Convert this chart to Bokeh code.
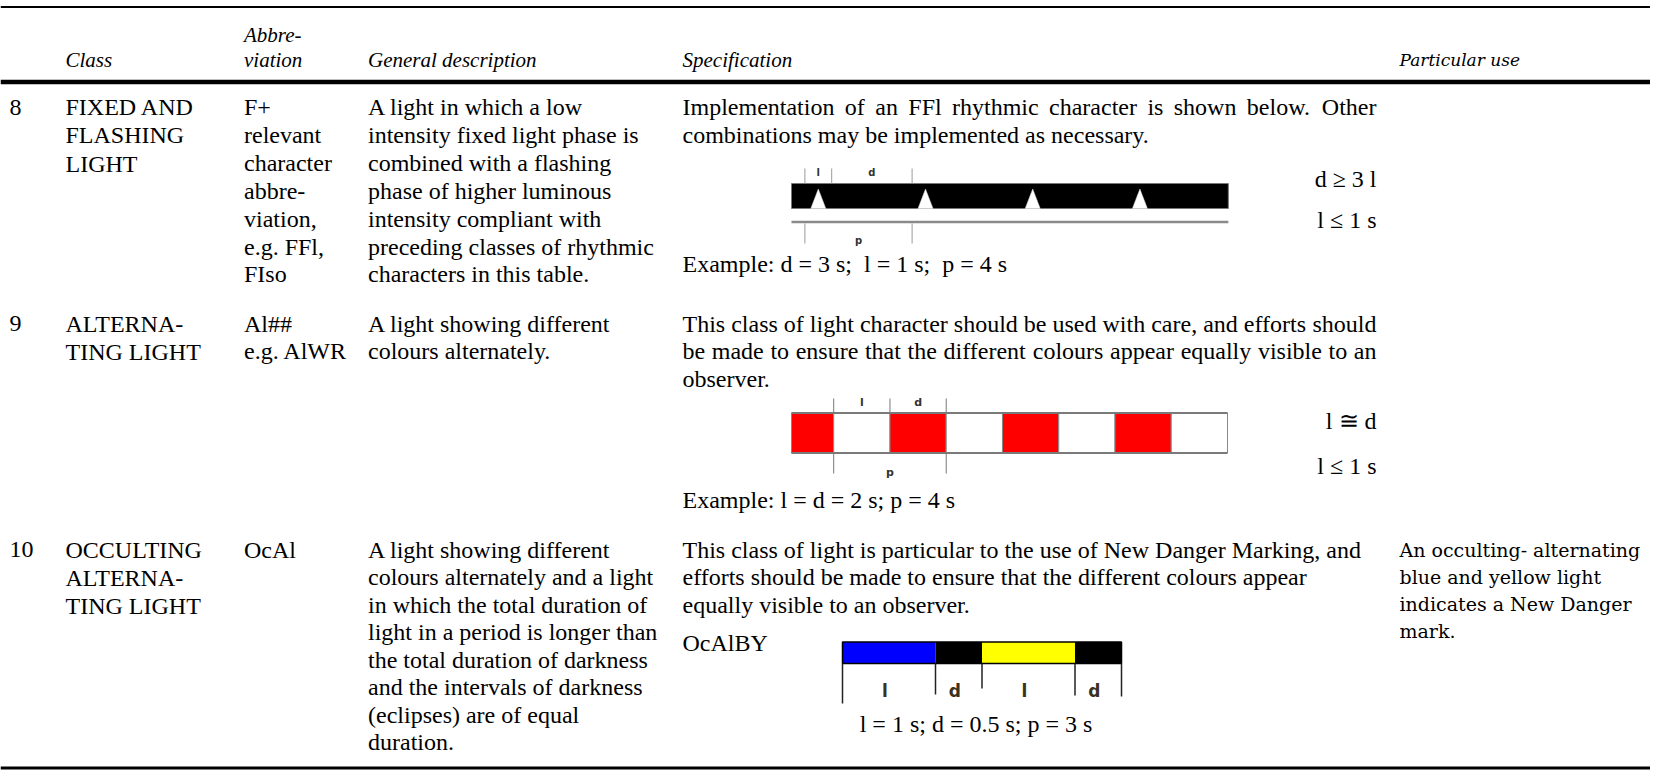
from bokeh.plotting import figure
from bokeh.models import Range1d
from bokeh.core.properties import value
from bokeh.embed import file_html
from bokeh.resources import INLINE

# ---------------- data ----------------
header_top = "Abbre-"
header_cols = ["Class", "viation", "General description", "Specification"]
header_particular = "Particular use"

row_numbers = ["8", "9", "10"]
class_lines = [["FIXED AND", "FLASHING", "LIGHT"],
               ["ALTERNA-", "TING LIGHT"],
               ["OCCULTING", "ALTERNA-", "TING LIGHT"]]
abbr_lines = [["F+", "relevant", "character", "abbre-", "viation,", "e.g. FFl,", "FIso"],
              ["Al##", "e.g. AlWR"],
              ["OcAl"]]
desc_lines = [
    ["A light in which a low", "intensity fixed light phase is", "combined with a flashing",
     "phase of higher luminous", "intensity compliant with", "preceding classes of rhythmic",
     "characters in this table."],
    ["A light showing different", "colours alternately."],
    ["A light showing different", "colours alternately and a light", "in which the total duration of",
     "light in a period is longer than", "the total duration of darkness", "and the intervals of darkness",
     "(eclipses) are of equal", "duration."],
]
spec_lines = [
    ["Implementation of an FFl rhythmic character is shown below. Other",
     "combinations may be implemented as necessary."],
    ["This class of light character should be used with care, and efforts should",
     "be made to ensure that the different colours appear equally visible to an",
     "observer."],
    ["This class of light is particular to the use of New Danger Marking, and",
     "efforts should be made to ensure that the different colours appear",
     "equally visible to an observer."],
]
spec_justified = [[True, False], [True, True, False], [False, False, False]]
spec_examples = ["Example: d = 3 s;\u00a0 l = 1 s;\u00a0 p = 4 s", "Example: l = d = 2 s; p = 4 s"]
cond_text = [["d \u2265 3 l", "l \u2264 1 s"], ["l \u2245 d", "l \u2264 1 s"]]
particular_lines = [[], [], ["An occulting- alternating", "blue and yellow light",
                             "indicates a New Danger", "mark."]]

# FFl rhythm (seconds)
ffl_light = 1.0
ffl_dark = 3.0
ffl_period = 4.0
ffl_flash_centres = [1.0, 5.0, 9.0, 13.0]
ffl_span = 16.3
# Alternating rhythm (seconds)
al_colours = ["#ff0000", "#ffffff", "#ff0000", "#ffffff", "#ff0000", "#ffffff", "#ff0000", "#ffffff"]
al_durations = [1.5, 2, 2, 2, 2, 2, 2, 2]
# Occulting alternating rhythm (seconds)
ocal_name = "OcAlBY"
ocal_colours = ["#0000ff", "#000000", "#ffff00", "#000000"]
ocal_durations = [1.0, 0.5, 1.0, 0.5]
ocal_labels = ["l", "d", "l", "d"]
ocal_caption = "l = 1 s; d = 0.5 s; p = 3 s"

# ---------------- layout ----------------
W, H = 1650, 770
XL, YT = 0, 0
XR, YB = XL + W, YT + H

X_NUM, X_CLASS, X_ABBR, X_DESC, X_SPEC, X_SPEC_R, X_PART = 9, 65, 243.5, 367.5, 682, 1376, 1399
ROW_Y = [106.5, 323, 549]
ROW_LH = [27.9, 27.6, 27.5]
SERIF = "Liberation Serif"
BODY = "24px"
HEAD = "21px"

TW = dict(zip("abcdefghijklmnopqrstuvwxyz",
              [444, 500, 444, 500, 444, 333, 500, 500, 278, 278, 500, 278, 778, 500, 500, 500, 500, 333, 389,
               278, 500, 500, 722, 500, 500, 444]))
TW.update(dict(zip("ABCDEFGHIJKLMNOPQRSTUVWXYZ",
                   [722, 667, 667, 722, 611, 556, 722, 722, 333, 389, 722, 611, 889, 722, 722, 556, 722, 667,
                    556, 611, 722, 722, 944, 722, 722, 611])))
TW.update({" ": 250, ".": 250, ",": 250, "-": 333, ";": 278, ":": 278})

p = figure(width=W, height=H, x_range=Range1d(XL, XR), y_range=Range1d(YB, YT),
           output_backend="svg", toolbar_location=None, x_axis_type=None, y_axis_type=None,
           min_border=0, min_border_left=0, min_border_right=0, min_border_top=0, min_border_bottom=0)
p.grid.visible = False
p.outline_line_color = None
p.background_fill_color = "white"
p.border_fill_color = "white"


def txt(xs, ys, texts, font=SERIF, size=BODY, style="normal", align="left", color="black"):
    p.text(x=xs, y=ys, text=texts, text_font=value(font), text_font_size=size,
           text_font_style=style, text_align=align, text_baseline="middle", text_color=color)


# rules
p.segment(x0=[XL, XL, XL], y0=[6.5, 81.5, 767.5], x1=[XR, XR, XR], y1=[6.5, 81.5, 767.5],
          line_color="black", line_width=[2, 4.5, 3])

# header
txt([X_ABBR], [34], [header_top], size=HEAD, style="italic")
txt([X_CLASS, X_ABBR, X_DESC, X_SPEC], [59.5] * 4, header_cols, size=HEAD, style="italic")
txt([X_PART], [59.5], [header_particular], font="DejaVu Serif", size="17px", style="italic")

# left columns
for r, y0 in enumerate(ROW_Y):
    lh = ROW_LH[r]
    txt([X_NUM], [y0], [row_numbers[r]])
    cl = class_lines[r]
    txt([X_CLASS] * len(cl), [y0 + i * 28.4 for i in range(len(cl))], cl)
    al = abbr_lines[r]
    txt([X_ABBR] * len(al), [y0 + i * lh for i in range(len(al))], al)
    dl = desc_lines[r]
    txt([X_DESC] * len(dl), [y0 + i * lh for i in range(len(dl))], dl)
    pl = particular_lines[r]
    if pl:
        txt([X_PART] * len(pl), [y0 + i * 27.3 for i in range(len(pl))], pl, font="DejaVu Serif", size="19px")

    # specification column
    for i, line in enumerate(spec_lines[r]):
        y = y0 + i * 27.6
        if spec_justified[r][i]:
            words = line.split(" ")
            widths = [sum(TW.get(c, 500) for c in w) * 24 / 1000 for w in words]
            gap = (X_SPEC_R - X_SPEC - sum(widths)) / (len(words) - 1)
            xs, x = [], X_SPEC
            for w in widths:
                xs.append(x)
                x += w + gap
            txt(xs[:-1], [y] * (len(words) - 1), words[:-1])
            txt([X_SPEC_R], [y], [words[-1]], align="right")
        else:
            txt([X_SPEC], [y], [line])

# examples and conditions
txt([X_SPEC, X_SPEC], [263, 499], spec_examples)
txt([X_SPEC_R] * 4, [178.5, 219, 420.6, 465], cond_text[0] + cond_text[1], align="right")

LAB = "DejaVu Sans"

# ---- FFl diagram ----
fx0, fs = 791, 26.8
FX = lambda t: fx0 + t * fs
p.quad(left=[FX(0)], right=[FX(ffl_span)], top=[183], bottom=[208], fill_color="black", line_color="#777777",
       line_width=1)
tri_x = [[FX(c) - 7.5, FX(c), FX(c) + 7.5] for c in ffl_flash_centres]
tri_y = [[208, 188.5, 208] for _ in ffl_flash_centres]
p.patches(xs=tri_x, ys=tri_y, fill_color="white", line_color="#dddddd", line_width=0.5)
p.segment(x0=[FX(0)], y0=[221.5], x1=[FX(ffl_span)], y1=[221.5], line_color="#8a8a8a", line_width=2.5)
f_start = ffl_flash_centres[0] - ffl_light / 2
f_end = f_start + ffl_light
f_next = f_start + ffl_period
up = [f_start, f_end, f_next]
p.segment(x0=[FX(t) for t in up], y0=[168] * 3, x1=[FX(t) for t in up], y1=[183] * 3,
          line_color="#9a9a9a", line_width=1)
dn = [f_start, f_next]
p.segment(x0=[FX(t) for t in dn], y0=[223] * 2, x1=[FX(t) for t in dn], y1=[243] * 2,
          line_color="#9a9a9a", line_width=1)
txt([FX(ffl_flash_centres[0]), FX(f_end + ffl_dark / 2), FX(f_start + ffl_period / 2)], [172, 172, 240],
    ["l", "d", "p"], font=LAB, size="10px", style="bold", align="center", color="#333333")

# ---- Alternating diagram ----
ax0, as_ = 791, 28.13
AX = lambda t: ax0 + t * as_
edges = [0.0]
for d in al_durations:
    edges.append(edges[-1] + d)
p.quad(left=[AX(e) for e in edges[:-1]], right=[AX(e) for e in edges[1:]], top=412.5, bottom=452.5,
       fill_color=al_colours, line_color="#888888", line_width=1)
p.segment(x0=[AX(0)] * 2, y0=[412.5, 452.5], x1=[AX(edges[-1])] * 2, y1=[412.5, 452.5],
          line_color="#7a7a7a", line_width=2)
up = edges[1:4]
p.segment(x0=[AX(t) for t in up], y0=[398] * 3, x1=[AX(t) for t in up], y1=[412.5] * 3,
          line_color="#777777", line_width=1)
dn = [edges[1], edges[3]]
p.segment(x0=[AX(t) for t in dn], y0=[452.5] * 2, x1=[AX(t) for t in dn], y1=[473] * 2,
          line_color="#777777", line_width=1)
txt([AX((edges[1] + edges[2]) / 2), AX((edges[2] + edges[3]) / 2), AX((edges[1] + edges[3]) / 2)],
    [401.5, 401.5, 472], ["l", "d", "p"], font=LAB, size="11px", style="bold", align="center", color="#333333")

# ---- Occulting alternating diagram ----
ox0, os_ = 842, 93.0
OX = lambda t: ox0 + t * os_
oe = [0.0]
for d in ocal_durations:
    oe.append(oe[-1] + d)
p.quad(left=[OX(e) for e in oe[:-1]], right=[OX(e) for e in oe[1:]], top=641.5, bottom=663,
       fill_color=ocal_colours, line_color=None)
p.quad(left=[OX(0)], right=[OX(oe[-1])], top=[641.5], bottom=[663], fill_color=None, line_color="black",
       line_width=1.5)
tick_end = [703, 694, 688, 695, 696]
p.segment(x0=[OX(t) for t in oe], y0=[663] * len(oe), x1=[OX(t) for t in oe], y1=tick_end,
          line_color="#222222", line_width=1.5)
txt([OX((oe[i] + oe[i + 1]) / 2) - 4 for i in range(4)], [690] * 4, ocal_labels, font=LAB, size="17px",
    style="bold", align="center", color="#3b3120")
txt([X_SPEC], [642], [ocal_name])
txt([OX(oe[-1] / 2) - 6], [723], [ocal_caption], align="center")

open("out.html", "w").write(file_html(p, INLINE))
